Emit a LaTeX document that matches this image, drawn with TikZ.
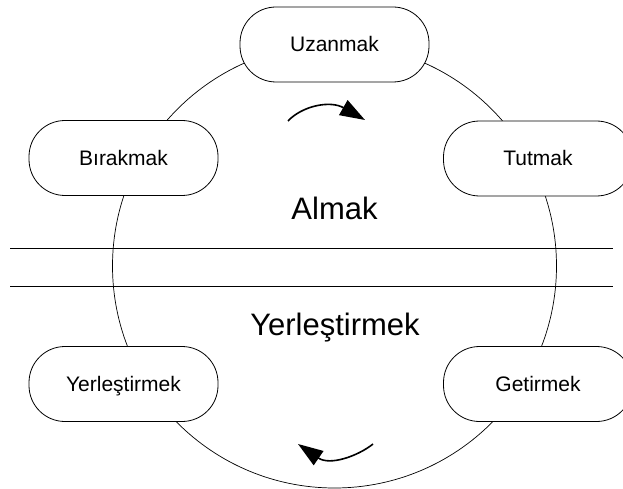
\documentclass[tikz,border=0pt]{standalone}
\usepackage{fontspec}
\setmainfont{Liberation Sans}
\usetikzlibrary{arrows.meta}
\begin{document}
\begin{tikzpicture}[x=1pt,y=-1pt,
  phase/.style={draw=black, line width=0.8pt, fill=white, rounded corners=36pt,
    minimum width=189pt, minimum height=75pt, inner sep=0pt,
    text height=15pt, text depth=0pt,
    font=\fontsize{21}{25}\selectfont},
  biglabel/.style={anchor=base, inner sep=0pt, font=\fontsize{31}{37}\selectfont},
  cycle/.style={line width=0.7pt},
  divider/.style={line width=0.8pt},
  turn/.style={line width=1.6pt, -{Triangle[length=25pt,width=17pt]}}]
  \useasboundingbox (0,0) rectangle (623,489);
  \fill[white] (0,0) rectangle (623,489);

  % the cycle
  \draw[cycle] (334.5,266) circle[radius=222pt];

  % phases round the cycle
  \node[phase] (uzanmak) at (334.5,44.5) {Uzanmak};
  \node[phase] (birakmak) at (123.5,158) {Bırakmak};
  \node[phase] (tutmak) at (538,158.5) {Tutmak};
  \node[phase] (yerlestirmek) at (123.5,384) {Yerleştirmek};
  \node[phase] (getirmek) at (538,384) {Getirmek};

  % band between the two halves
  \coordinate (d1a) at (10,248);
  \coordinate (d1b) at (613,248);
  \coordinate (d2a) at (10,286);
  \coordinate (d2b) at (613,286);
  \draw[divider] (d1a) -- (d1b);
  \draw[divider] (d2a) -- (d2b);

  % halves
  \node[biglabel] (almak) at (334.5,219) {Almak};
  \node[biglabel] (yerles) at (335,335) {Yerleştirmek};

  % direction of travel
  \coordinate (ta) at (288,121);
  \coordinate (tb) at (365,120);
  \draw[turn] (ta) .. controls (302,106) and (330,100) .. (tb);
  \coordinate (ba) at (373,444);
  \coordinate (bb) at (298,444);
  \draw[turn] (ba) .. controls (358,456) and (330,466) .. (bb);
\end{tikzpicture}
\end{document}
